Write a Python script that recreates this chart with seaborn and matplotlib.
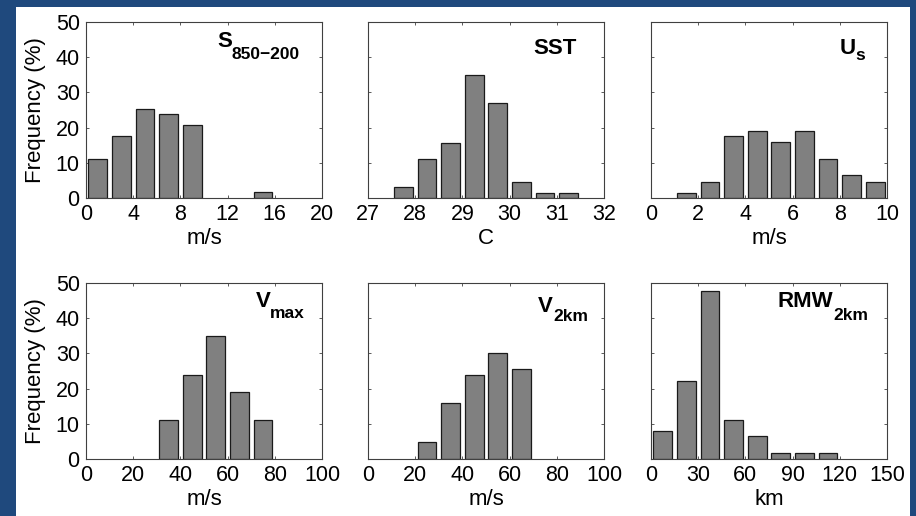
import numpy as np
import pandas as pd
import matplotlib
matplotlib.use("Agg")
import matplotlib.pyplot as plt
from matplotlib.patches import Rectangle
import seaborn as sns

# bin centres, frequencies in %
shear_bins = [1, 3, 5, 7, 9, 11, 13, 15, 17, 19]
shear_freq = [11.1, 17.5, 25.4, 23.8, 20.6, 0, 0, 1.6, 0, 0]

sst_bins = [27.25, 27.75, 28.25, 28.75, 29.25, 29.75, 30.25, 30.75, 31.25, 31.75]
sst_freq = [0, 3.1, 11.2, 15.7, 35.0, 26.9, 4.6, 1.5, 1.5, 0]

us_bins = [0.5, 1.5, 2.5, 3.5, 4.5, 5.5, 6.5, 7.5, 8.5, 9.5]
us_freq = [0, 1.5, 4.6, 17.5, 19.0, 15.8, 19.0, 11.2, 6.4, 4.6]

vmax_bins = [5, 15, 25, 35, 45, 55, 65, 75, 85, 95]
vmax_freq = [0, 0, 0, 11.0, 24.0, 35.0, 19.1, 11.0, 0, 0]

v2km_bins = [5, 15, 25, 35, 45, 55, 65, 75, 85, 95]
v2km_freq = [0, 0, 4.8, 15.9, 24.0, 30.2, 25.5, 0, 0, 0]

rmw_bins = [7.5, 22.5, 37.5, 52.5, 67.5, 82.5, 97.5, 112.5, 127.5, 142.5]
rmw_freq = [7.9, 22.2, 47.6, 11.0, 6.5, 1.7, 1.7, 1.7, 0, 0]

shear_ticks = [0, 4, 8, 12, 16, 20]
sst_ticks = [27, 28, 29, 30, 31, 32]
us_ticks = [0, 2, 4, 6, 8, 10]
vmax_ticks = [0, 20, 40, 60, 80, 100]
v2km_ticks = [0, 20, 40, 60, 80, 100]
rmw_ticks = [0, 30, 60, 90, 120, 150]
freq_ticks = [0, 10, 20, 30, 40, 50]

x_units = ["m/s", "C", "m/s", "m/s", "m/s", "km"]
label_main = ["S", "SST", "U", "V", "V", "RMW"]
label_sub = ["850\u2212200", None, "s", "max", "2km", "2km"]

sns.set_theme(style="ticks")
plt.rcParams["font.family"] = ["Liberation Sans", "DejaVu Sans"]
plt.rcParams["text.color"] = "black"
plt.rcParams["axes.labelcolor"] = "black"

W, H = 916, 516
fig = plt.figure(figsize=(W / 100, H / 100), dpi=100, facecolor="#1f497d")
# white slide area
fig.patches.append(Rectangle((16 / W, 0), (910 - 16) / W, (516 - 7) / H,
                             transform=fig.transFigure, facecolor="white",
                             edgecolor="none", zorder=-10))

panels = [
    (shear_bins, shear_freq, shear_ticks),
    (sst_bins, sst_freq, sst_ticks),
    (us_bins, us_freq, us_ticks),
    (vmax_bins, vmax_freq, vmax_ticks),
    (v2km_bins, v2km_freq, v2km_ticks),
    (rmw_bins, rmw_freq, rmw_ticks),
]

# axes boxes in pixels (left, top)
lefts = [86, 368, 651]
tops = [22, 283]
ax_w, ax_h = 236, 176

# label anchor (right edge, subscript baseline) in axes fraction + base lift in px
label_pos = [(0.907, 0.788, 11), (0.886, 0.818, 0), (0.907, 0.784, 5),
             (0.928, 0.801, 10), (0.932, 0.784, 8), (0.919, 0.790, 12)]

for i, (centers, freq, xt) in enumerate(panels):
    row, col = divmod(i, 3)
    left = lefts[col] / W
    bottom = 1 - (tops[row] + ax_h) / H
    ax = fig.add_axes([left, bottom, ax_w / W, ax_h / H])

    df = pd.DataFrame({"value": centers, "freq": freq})
    c = df["value"].to_numpy(dtype=float)
    w = c[1] - c[0]
    edges = list(np.r_[c - w / 2, c[-1] + w / 2])
    sns.histplot(data=df, x="value", weights="freq", bins=edges, shrink=0.8,
                 ax=ax, color="#808080", edgecolor="#1a1a1a", linewidth=0.9,
                 alpha=1)
    # empty bins leave no mark
    for p in ax.patches:
        if p.get_height() == 0:
            p.set_visible(False)

    ax.set_xlim(xt[0], xt[-1])
    ax.set_ylim(0, 50)
    ax.set_xticks(xt)
    ax.set_yticks(freq_ticks)
    ax.set_facecolor("white")
    for sp in ax.spines.values():
        sp.set_visible(True)
        sp.set_color("#404040")
        sp.set_linewidth(0.8)
    ax.tick_params(direction="in", length=2.5, width=0.6, color="#404040",
                   top=True, right=True, labelsize=15.5, pad=4.5, labelcolor="black")
    ax.set_xlabel(x_units[i], fontsize=16, labelpad=2, color="black")
    if col == 0:
        ax.set_ylabel("Frequency (%)", fontsize=16, labelpad=7, color="black")
    else:
        ax.set_ylabel("")
        ax.set_yticklabels([])

    x, y, lift = label_pos[i]
    if label_sub[i] is None:
        ax.text(x, y, label_main[i], transform=ax.transAxes, ha="right",
                va="baseline", fontsize=16, fontweight="bold", color="black")
    else:
        s = ax.text(x, y, label_sub[i], transform=ax.transAxes, ha="right",
                    va="baseline", fontsize=12.5, fontweight="bold", color="black")
        ax.annotate(label_main[i], xy=(0, 0), xycoords=s, xytext=(0, 4 + lift),
                    textcoords="offset pixels", ha="right", va="baseline",
                    fontsize=16, fontweight="bold", color="black")

fig.savefig("out.png", dpi=100, facecolor=fig.get_facecolor())
